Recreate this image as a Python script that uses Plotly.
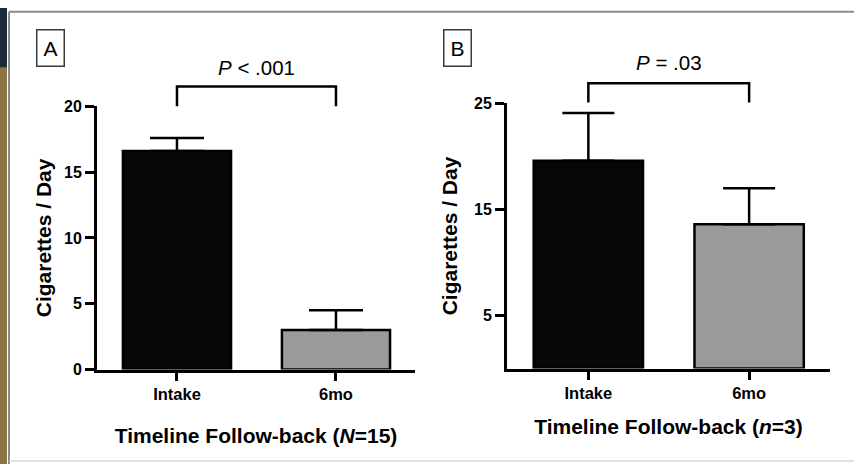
import plotly.graph_objects as go

# ---- data ----
categories = ["Intake", "6mo"]
a_values = [16.6, 3.0]
a_errors = [1.0, 1.5]
b_values = [19.6, 13.6]
b_errors = [4.5, 3.4]
a_yticks = [0, 5, 10, 15, 20]
b_yticks = [5, 15, 25]
a_ptext = "<i>P</i> < .001"
b_ptext = "<i>P</i> = .03"
a_xtitle = "Timeline Follow-back (<i>N</i>=15)"
b_xtitle = "Timeline Follow-back (<i>n</i>=3)"
ytitle = "Cigarettes / Day"
bar_colors = ["#070707", "#9a9a9a"]

W, H = 854, 473
FONT = "Liberation Sans, Arial, sans-serif"

def pxx(x):
    return x / W

def pxy(y):
    return 1 - y / H

fig = go.Figure()

for vals, errs, xa, ya, cap in [(a_values, a_errors, "x", "y", 27),
                                (b_values, b_errors, "x2", "y2", 26)]:
    fig.add_trace(go.Bar(
        x=categories, y=vals, xaxis=xa, yaxis=ya,
        width=0.68,
        marker=dict(color=bar_colors, line=dict(color="black", width=2.5)),
        error_y=dict(type="data", array=errs, arrayminus=[0, 0], symmetric=False,
                     color="black", thickness=2.5, width=cap),
        showlegend=False,
    ))

xtickfont = dict(family=FONT, size=16.5, color="black", weight="bold")
ytickfont = dict(family=FONT, size=16, color="black", weight="bold")
xtitlefont = dict(family=FONT, size=21, color="black", weight="bold")
ytitlefont = dict(family=FONT, size=21, color="black", weight="bold")

xcommon = dict(type="category", showline=True, linecolor="black", linewidth=3,
               ticks="outside", ticklen=8, tickwidth=2.5, tickcolor="black",
               tickfont=xtickfont, showgrid=False, zeroline=False, fixedrange=True)
ycommon = dict(showline=True, linecolor="black", linewidth=3,
               ticks="outside", ticklen=9, tickwidth=2.5, tickcolor="black",
               tickfont=ytickfont, showgrid=False, zeroline=False, fixedrange=True)

a_range = [0, 20]
b_range = [0, 25]

fig.update_layout(
    width=W, height=H,
    margin=dict(l=0, r=0, t=0, b=0),
    paper_bgcolor="white", plot_bgcolor="white",
    xaxis=dict(xcommon, domain=[pxx(97), pxx(415)], range=[-0.503, 1.497], anchor="y",
               title=dict(text=a_xtitle, standoff=26, font=xtitlefont)),
    yaxis=dict(ycommon, domain=[pxy(375), pxy(102)], range=a_range, tickvals=a_yticks,
               anchor="x", title=dict(text=ytitle, standoff=7, font=ytitlefont)),
    xaxis2=dict(xcommon, domain=[pxx(507), pxx(830)], range=[-0.506, 1.503], anchor="y2",
                title=dict(text=b_xtitle, standoff=18, font=xtitlefont)),
    yaxis2=dict(ycommon, domain=[pxy(374), pxy(99)], range=b_range, tickvals=b_yticks,
                anchor="x2", title=dict(text=ytitle, standoff=11, font=ytitlefont)),
)

# brackets (data units -> domain fraction)
brackets = [("x", "y domain", a_range[1], 20.0, 21.5, a_ptext, 1.147),
            ("x2", "y2 domain", b_range[1], 25.1, 26.9, b_ptext, 1.153)]
for xr, yr, top, low, high, txt, tpos in brackets:
    lo, hi = low / top, high / top
    path = f"M 0,{lo} L 0,{hi} L 1,{hi} L 1,{lo}"
    fig.add_shape(type="path", xref=xr, yref=yr, path=path,
                  line=dict(color="black", width=2.5))
    fig.add_annotation(xref=xr, yref=yr, x=0.5, y=tpos, text=txt, showarrow=False,
                       font=dict(family=FONT, size=20.5, color="black"),
                       xanchor="center", yanchor="middle")

# panel labels
for lab, cx in [("A", 50.5), ("B", 457.5)]:
    fig.add_annotation(xref="paper", yref="paper", x=pxx(cx), y=pxy(41.5), text=lab,
                       showarrow=False, font=dict(family=FONT, size=21, color="black"),
                       bordercolor="#3a3a3a", borderwidth=1.5, borderpad=6,
                       xanchor="center", yanchor="middle")

# frame decorations
fig.add_shape(type="rect", xref="paper", yref="paper", x0=0, x1=pxx(7), y0=pxy(62), y1=1,
              fillcolor="#1d2a38", line=dict(width=0), layer="below")
fig.add_shape(type="rect", xref="paper", yref="paper", x0=0, x1=pxx(7), y0=0, y1=pxy(62),
              fillcolor="#8c7442", line=dict(width=0), layer="below")
fig.add_shape(type="line", xref="paper", yref="paper", x0=pxx(9), x1=1, y0=pxy(4), y1=pxy(4),
              line=dict(color="#8a8a8a", width=2))
fig.add_shape(type="line", xref="paper", yref="paper", x0=pxx(9), x1=pxx(9), y0=0, y1=pxy(4),
              line=dict(color="#8a8a8a", width=2))
fig.add_shape(type="line", xref="paper", yref="paper", x0=pxx(9), x1=1, y0=pxy(470), y1=pxy(470),
              line=dict(color="#d8d8d8", width=1.5))

fig.write_html("out.html", config={"displayModeBar": False},
               post_script="document.body.style.margin='0';document.body.style.overflow='hidden';")
